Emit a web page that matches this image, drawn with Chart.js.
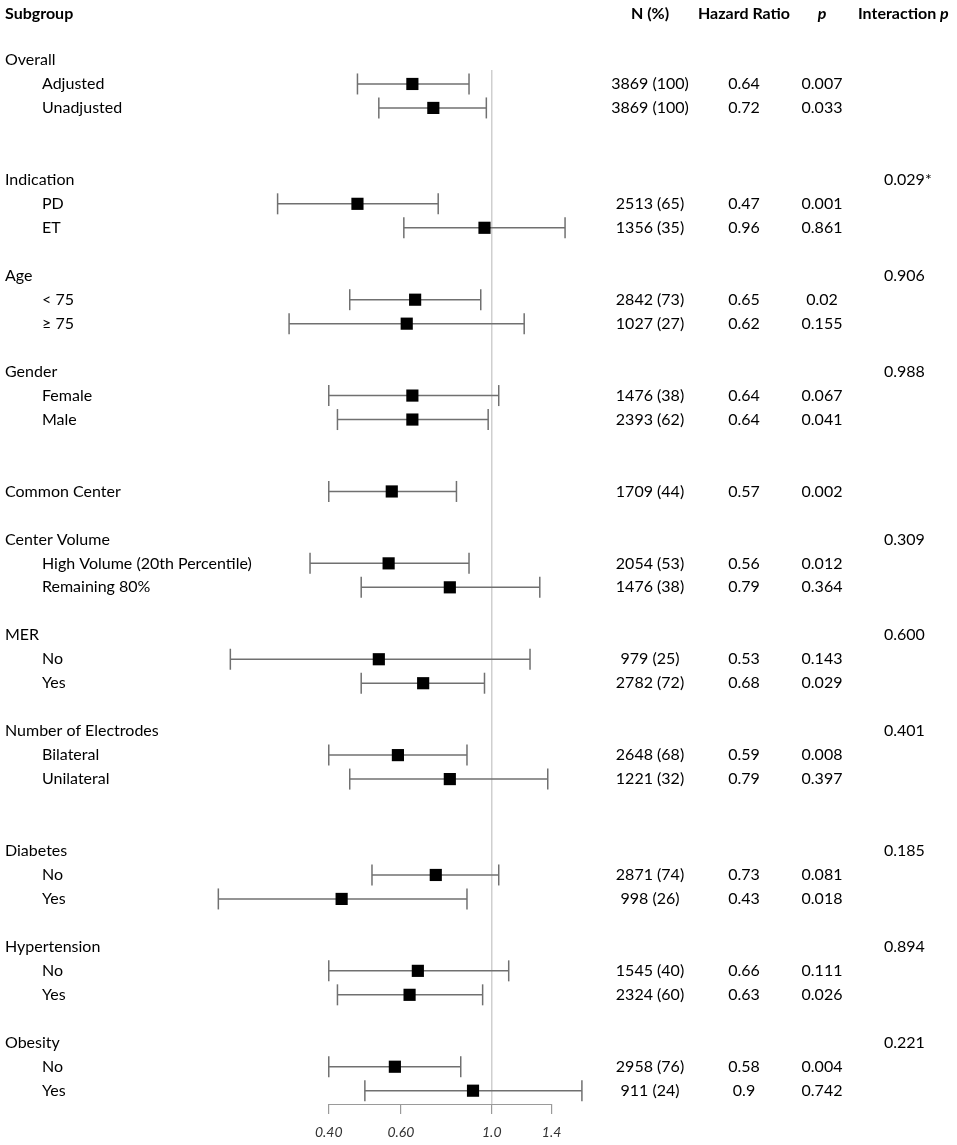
<!DOCTYPE html>
<html><head><meta charset="utf-8">
<script src="https://cdn.jsdelivr.net/npm/chart.js@4"></script>
<style>html,body{margin:0;padding:0;background:#fff;}#wrap{width:957px;height:1145px;position:relative;}</style>
</head><body><div id="wrap"><canvas id="c"></canvas></div>
<script>
// ---------------- DATA ----------------
const headers = ['Subgroup', 'N (%)', 'Hazard Ratio', 'p', 'Interaction p'];
const rowLabels = ['Overall','Adjusted','Unadjusted','Indication','PD','ET','Age','< 75','\u2265 75','Gender','Female','Male','Common Center','Center Volume','High Volume (20th Percentile)','Remaining 80%','MER','No','Yes','Number of Electrodes','Bilateral','Unilateral','Diabetes','No','Yes','Hypertension','No','Yes','Obesity','No','Yes'];
const rowPos    = [0,1,2,5,6,7,9,10,11,13,14,15,18,20,21,22,24,25,26,28,29,30,33,34,35,37,38,39,41,42,43];
const rowIndent = [0,1,1,0,1,1,0,1,1,0,1,1,0,0,1,1,0,1,1,0,1,1,0,1,1,0,1,1,0,1,1];
const nPct = [null,'3869 (100)','3869 (100)',null,'2513 (65)','1356 (35)',null,'2842 (73)','1027 (27)',null,'1476 (38)','2393 (62)','1709 (44)',null,'2054 (53)','1476 (38)',null,'979 (25)','2782 (72)',null,'2648 (68)','1221 (32)',null,'2871 (74)','998 (26)',null,'1545 (40)','2324 (60)',null,'2958 (76)','911 (24)'];
const hazardRatio = [null,0.64,0.72,null,0.47,0.96,null,0.65,0.62,null,0.64,0.64,0.57,null,0.56,0.79,null,0.53,0.68,null,0.59,0.79,null,0.73,0.43,null,0.66,0.63,null,0.58,0.9];
const ciLower = [null,0.47,0.53,null,0.30,0.61,null,0.45,0.32,null,0.40,0.42,0.40,null,0.36,0.48,null,0.23,0.48,null,0.40,0.45,null,0.51,0.215,null,0.40,0.42,null,0.40,0.49];
const ciUpper = [null,0.88,0.97,null,0.74,1.51,null,0.94,1.20,null,1.04,0.98,0.82,null,0.88,1.31,null,1.24,0.96,null,0.87,1.37,null,1.04,0.87,null,1.10,0.95,null,0.84,1.66];
const pValue = [null,'0.007','0.033',null,'0.001','0.861',null,'0.02','0.155',null,'0.067','0.041','0.002',null,'0.012','0.364',null,'0.143','0.029',null,'0.008','0.397',null,'0.081','0.018',null,'0.111','0.026',null,'0.004','0.742'];
const interactionP = [null,null,null,'0.029*',null,null,'0.906',null,null,'0.988',null,null,null,'0.309',null,null,'0.600',null,null,'0.401',null,null,'0.185',null,null,'0.894',null,null,'0.221',null,null];
const axisTicks = [0.40, 0.60, 1.0, 1.4];
const axisTickLabels = ['0.40', '0.60', '1.0', '1.4'];
const refValue = 1.0;

// ---------------- STYLE / LAYOUT ----------------
const FONT = 'Lato, "Open Sans", sans-serif';
const FS = 16;
const X_MIN = 0.0630, X_MAX = 13.675;
const Y_MIN = -2.503, Y_MAX = 43.555;
const HEADER_ROW = -1.92;
const REF_TOP_ROW = 0.42;
const COL = { label: 5, indent: 42, n: 650, hr: 744, p: 822, interHead: 858, inter: 884 };

const datasets = [];
// squares (first => drawn on top)
datasets.push({
  type: 'scatter',
  data: rowPos.map((r, i) => hazardRatio[i] == null ? null : { x: hazardRatio[i], y: r }).filter(d => d),
  pointStyle: 'rect', pointRadius: 8.6, pointHoverRadius: 8.6,
  backgroundColor: '#000', borderColor: '#000', borderWidth: 0
});
// CI lines with end caps
rowPos.forEach((r, i) => {
  if (hazardRatio[i] == null) return;
  datasets.push({
    type: 'line',
    data: [{ x: ciLower[i], y: r }, { x: ciUpper[i], y: r }],
    borderColor: '#707070', borderWidth: 1.5,
    pointStyle: 'line', pointRotation: 90, pointRadius: 10.5, pointHoverRadius: 10.5,
    pointBorderColor: '#707070', pointBorderWidth: 1.5, pointBackgroundColor: '#707070',
    tension: 0, fill: false
  });
});
// reference line at HR = 1
datasets.push({
  type: 'line',
  data: [{ x: refValue, y: REF_TOP_ROW }, { x: refValue, y: Y_MAX }],
  borderColor: '#cfcfcf', borderWidth: 1.5, pointRadius: 0, fill: false
});

const textPlugin = {
  id: 'forestText',
  afterDraw(chart) {
    const ctx = chart.ctx;
    const ys = chart.scales.y, xs = chart.scales.x;
    ctx.save();
    // axis line from first to last tick
    ctx.strokeStyle = '#9a9a9a';
    ctx.lineWidth = 1.2;
    ctx.beginPath();
    const by = chart.chartArea.bottom + 0.5;
    ctx.moveTo(xs.getPixelForValue(axisTicks[0]), by);
    ctx.lineTo(xs.getPixelForValue(axisTicks[axisTicks.length - 1]), by);
    ctx.stroke();

    ctx.fillStyle = '#000';
    ctx.textBaseline = 'middle';
    const hy = ys.getPixelForValue(HEADER_ROW);
    const bold = `bold ${FS}px ${FONT}`;
    const boldIt = `italic bold ${FS}px ${FONT}`;
    ctx.font = bold;
    ctx.textAlign = 'left';
    ctx.fillText(headers[0], COL.label, hy);
    ctx.textAlign = 'center';
    ctx.fillText(headers[1], COL.n, hy);
    ctx.fillText(headers[2], COL.hr, hy);
    ctx.font = boldIt;
    ctx.fillText(headers[3], COL.p, hy);
    // Interaction p
    ctx.textAlign = 'left';
    ctx.font = bold;
    const ip = headers[4].split(' ');
    const first = ip[0] + ' ';
    ctx.fillText(first, COL.interHead, hy);
    const w = ctx.measureText(first).width;
    ctx.font = boldIt;
    ctx.fillText(ip[1], COL.interHead + w, hy);

    ctx.font = `${FS}px ${FONT}`;
    rowPos.forEach((r, i) => {
      const y = ys.getPixelForValue(r);
      ctx.textAlign = 'left';
      ctx.fillText(rowLabels[i], rowIndent[i] ? COL.indent : COL.label, y);
      if (nPct[i]) { ctx.textAlign = 'center'; ctx.fillText(nPct[i], COL.n, y); }
      if (hazardRatio[i] != null) { ctx.textAlign = 'center'; ctx.fillText(String(hazardRatio[i]), COL.hr, y); }
      if (pValue[i]) { ctx.textAlign = 'center'; ctx.fillText(pValue[i], COL.p, y); }
      if (interactionP[i]) { ctx.textAlign = 'left'; ctx.fillText(interactionP[i], COL.inter, y); }
    });
    ctx.restore();
  }
};

new Chart(document.getElementById('c'), {
  type: 'scatter',
  data: { datasets },
  options: {
    responsive: true, maintainAspectRatio: false, animation: false,
    layout: { padding: 0, autoPadding: false },
    plugins: { legend: { display: false }, tooltip: { enabled: false } },
    events: [],
    scales: {
      x: {
        type: 'logarithmic', min: X_MIN, max: X_MAX, bounds: 'data',
        afterBuildTicks: (s) => { s.ticks = axisTicks.map(v => ({ value: v })); },
        afterFit: (s) => { s.height = 41; },
        border: { display: false },
        grid: { display: true, drawOnChartArea: false, drawTicks: true, tickLength: 10, color: '#9a9a9a', lineWidth: 1.2 },
        ticks: {
          autoSkip: false, maxRotation: 0, padding: 10, color: '#333',
          font: { family: FONT, size: 14, style: 'italic' },
          callback: (v) => { const k = axisTicks.indexOf(v); return k >= 0 ? axisTickLabels[k] : ''; }
        }
      },
      y: { type: 'linear', min: Y_MIN, max: Y_MAX, reverse: true, bounds: 'data', display: false }
    }
  },
  plugins: [textPlugin]
});
</script></body></html>
